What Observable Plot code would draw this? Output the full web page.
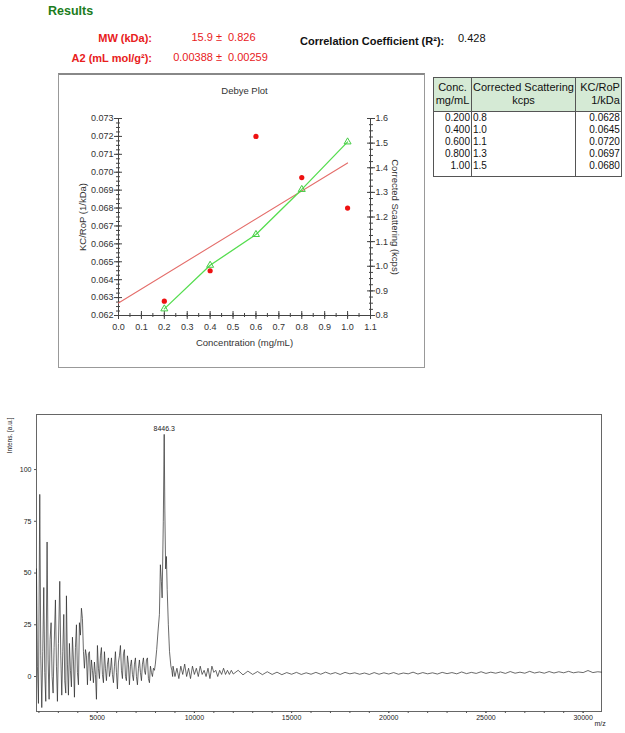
<!DOCTYPE html>
<html><head><meta charset="utf-8">
<script src="https://cdn.jsdelivr.net/npm/d3@7"></script>
<script src="https://cdn.jsdelivr.net/npm/@observablehq/plot@0.6"></script>
<style>
body{margin:0;background:#fff;}
#page{position:relative;width:625px;height:733px;overflow:hidden;font-family:"Liberation Sans",Arial,sans-serif;background:#fff;}
.abs{position:absolute;white-space:nowrap;}
.red{color:#e8201c;}
#debyeBox{position:absolute;left:58px;top:73px;width:365px;height:292px;border:1px solid #999;border-top:2px solid #888;}
#tableBox{position:absolute;left:433px;top:77px;}
#tableBox table{border-collapse:collapse;table-layout:fixed;border:1px solid #555;font-family:"Liberation Sans",Arial,sans-serif;color:#111;}
#tableBox th{background:#d5ead5;font-weight:normal;font-size:11px;line-height:12.5px;padding:3px 1px 5px 1px;border-right:1px solid #555;border-bottom:1px solid #555;overflow:hidden;white-space:nowrap;}
#tableBox td{font-size:10px;line-height:12px;height:12px;padding:0 1px;border-right:1px solid #555;overflow:hidden;white-space:nowrap;}
#tableBox tr.last td{padding-bottom:4px;}
</style></head>
<body><div id="page"></div>
<script>
// ---------- data ----------
const resultLabels = ["MW (kDa):", "A2 (mL mol/g²):"];
const resultValues = ["15.9 ±", "0.00388 ±"];
const resultErrors = ["0.826", "0.00259"];
const correlationText = ["Correlation Coefficient (R²):", "0.428"];

const concentrations = [0.2, 0.4, 0.6, 0.8, 1.0];
const concLabels = ["0.200", "0.400", "0.600", "0.800", "1.00"];
const scattering = [0.827, 1.004, 1.129, 1.312, 1.505];
const scatteringLabels = ["0.8", "1.0", "1.1", "1.3", "1.5"];
const kcRop = [0.0628, 0.0645, 0.0720, 0.0697, 0.0680];
const kcRopLabels = ["0.0628", "0.0645", "0.0720", "0.0697", "0.0680"];
const fitConc = [0.0, 1.0];
const fitKc = [0.0627, 0.07052];

const xTicks = [0, 0.1, 0.2, 0.3, 0.4, 0.5, 0.6, 0.7, 0.8, 0.9, 1.0, 1.1];
const leftTicks = [0.062, 0.063, 0.064, 0.065, 0.066, 0.067, 0.068, 0.069, 0.070, 0.071, 0.072, 0.073];
const rightTicks = [0.8, 0.9, 1.0, 1.1, 1.2, 1.3, 1.4, 1.5, 1.6];

const tableHeaders = [["Conc.", "mg/mL"], ["Corrected Scattering", "kcps"], ["KC/RoP", "1/kDa"]];

const spectrumPoints = [
[1876,52],[1924,5],[1976,-13],[2044,88],[2096,10],[2147,-15],[2199,12],[2250,43],[2301,2],[2353,-12],
[2421,65],[2473,8],[2524,-11],[2576,18],[2627,26],[2679,0],[2730,-8],[2782,14],[2850,37],[2902,5],
[2953,-12],[3005,16],[3073,46],[3125,10],[3176,-9],[3228,12],[3279,30],[3330,-2],[3382,-8],[3416,39],
[3468,6],[3519,-9],[3570,16],[3622,3],[3673,-5],[3725,19],[3776,8],[3828,-10],[3879,14],[3931,25],
[3982,2],[4034,-4],[4085,26],[4136,20],[4188,33],[4239,28],[4291,12],[4342,4],[4394,13],[4445,10],
[4497,-4],[4548,11],[4600,12],[4651,-2],[4702,8],[4754,3],[4805,-3],[4857,7],[4908,1],[4960,-11],
[5011,15],[5063,4],[5114,-1],[5166,10],[5217,14],[5268,1],[5320,-3],[5371,12],[5423,4],[5474,-2],
[5526,6],[5577,9],[5629,0],[5680,3],[5732,9],[5783,1],[5834,-3],[5886,5],[5937,12],[5989,2],
[6040,-6],[6092,7],[6143,10],[6195,15],[6246,3],[6297,-1],[6349,11],[6400,13],[6452,0],[6503,-2],
[6555,10],[6606,6],[6657,-4],[6709,5],[6760,8],[6812,1],[6863,-2],[6915,6],[6966,9],[7018,0],
[7069,-4],[7121,4],[7172,8],[7224,2],[7275,-2],[7326,6],[7378,9],[7429,3],[7481,1],[7532,8],
[7584,9],[7635,-1],[7687,-3],[7738,5],[7789,2],[7841,0],[7892,4],[7944,3],
[7990,6],[8060,13],[8130,22],[8200,30],[8250,54],[8300,46],[8340,38],[8400,75],[8446,117],[8480,80],
[8520,52],[8560,58],[8600,42],[8660,25],[8720,12],[8790,5],[8840,3],[8880,0],
[8900,5],[9000,0],[9100,4],[9200,-1],[9300,5],[9400,1],[9500,6],[9600,0],[9700,4],[9800,-1],
[9900,5],[10000,1],[10100,4],[10200,0],[10300,5],[10400,1],[10500,3],[10600,0],[10700,4],[10800,-1],
[10900,5],[11000,2],[11100,3],[11200,0],[11300,3],[11400,1],[11500,4],[11600,1],[11700,3],[11800,1],
[11900,3],[12000,1.2],[12250,3],[12500,0.8],[12750,2.6],[13000,1.0],[13250,2.4],[13500,0.9],[13750,2.3],[14000,1.0],
[14250,2.1],[14500,0.9],[14750,1.9],[15000,1.1],[15250,2.0],[15500,1.0],[15750,1.8],[16000,1.1],[16250,2.0],[16500,1.1],
[16750,2.1],[17000,1.2],[17250,1.9],[17500,1.0],[17750,2.0],[18000,1.3],[18250,1.8],[18500,1.1],[18750,1.7],[19000,1.0],
[19250,1.9],[19500,1.1],[19750,1.8],[20000,1.2],[20250,1.9],[20500,1.1],[20750,1.7],[21000,1.3],[21250,2.1],[21500,1.2],
[21750,1.9],[22000,1.3],[22250,1.8],[22500,1.2],[22750,2.0],[23000,1.4],[23250,1.9],[23500,1.3],[23750,2.2],[24000,1.4],
[24250,2.0],[24500,1.5],[24750,2.3],[25000,1.5],[25250,2.1],[25500,1.6],[25750,2.2],[26000,1.5],[26250,2.4],[26500,1.6],
[26750,2.1],[27000,1.6],[27250,2.5],[27500,1.7],[27750,2.2],[28000,1.6],[28250,2.4],[28500,1.7],[28750,2.3],[29000,1.8],
[29250,2.5],[29500,1.8],[29750,2.2],[30000,1.9],[30250,2.9],[30500,1.9],[30750,2.3],[30945,2.1]
];
const peakMz = [8446];
const peakInt = [117];
const peakLabels = ["8446.3"];
const mzTicks = [5000, 10000, 15000, 20000, 25000, 30000];
const intTicks = [0, 25, 50, 75, 100];

// ---------- layout helpers ----------
const FONT = '"Liberation Sans", Arial, sans-serif';
const page = document.getElementById("page");
function addText(txt, css, cls) {
  const d = document.createElement("div");
  d.className = "abs" + (cls ? " " + cls : "");
  d.textContent = txt;
  Object.assign(d.style, css);
  page.appendChild(d);
  return d;
}

// ---------- header ----------
addText("Results", {left: "48px", top: "4px", font: "bold 12.5px " + FONT, color: "#1c7c1c"});
const rowCenters = [38, 58];
resultLabels.forEach((lab, i) => {
  const top = (rowCenters[i] - 7) + "px";
  addText(lab, {left: "20px", width: "132px", textAlign: "right", top, font: "bold 11px " + FONT, lineHeight: "14px"}, "red");
  addText(resultValues[i], {left: "148px", width: "74px", textAlign: "right", top: (rowCenters[i] - 8) + "px", font: "11px " + FONT, lineHeight: "14px"}, "red");
  addText(resultErrors[i], {left: "228px", top: (rowCenters[i] - 8) + "px", font: "11px " + FONT, lineHeight: "14px"}, "red");
});
addText(correlationText[0], {left: "300px", top: "34px", font: "bold 11px " + FONT, lineHeight: "14px", color: "#111"});
addText(correlationText[1], {left: "458px", top: "31px", font: "11px " + FONT, lineHeight: "14px", color: "#111"});

// ---------- Debye plot ----------
const box = document.createElement("div");
box.id = "debyeBox";
page.appendChild(box);

const debye = concentrations.map((c, i) => ({conc: c, kc: kcRop[i], scat: scattering[i]}));
const fit = fitConc.map((c, i) => ({conc: c, kc: fitKc[i]}));
const Y0 = 0.062, Y1 = 0.073, R0 = 0.8, R1 = 1.6;
const toLeft = r => Y0 + (r - R0) * (Y1 - Y0) / (R1 - R0);
const fromLeft = y => R0 + (y - Y0) * (R1 - R0) / (Y1 - Y0);
const leftMinor = d3.range(0, 45).map(i => Y0 + i * 0.00025);
const rightMinor = d3.range(0, 33).map(i => R0 + i * 0.025);
const xMinor = d3.range(0, 23).map(i => i * 0.05);
const axisColor = "#444";

const debyePlot = Plot.plot({
  width: 369, height: 294,
  marginLeft: 60, marginRight: 57, marginTop: 45, marginBottom: 52,
  x: {domain: [0, 1.1]},
  y: {domain: [Y0, Y1]},
  style: {fontFamily: FONT, fontSize: "9px", color: "#333", background: "transparent", overflow: "visible"},
  marks: [
    Plot.ruleX([0], {stroke: axisColor}),
    Plot.ruleX([1.1], {stroke: axisColor}),
    Plot.ruleY([Y0], {stroke: axisColor}),
    Plot.axisY(leftMinor, {anchor: "left", tickSize: 4, dx: 2, tickFormat: () => "", label: null, stroke: axisColor}),
    Plot.axisY(leftTicks, {anchor: "left", tickSize: 8, dx: 4, tickPadding: 1, tickFormat: d => d.toFixed(3), label: null, stroke: axisColor}),
    Plot.axisY(rightMinor.map(toLeft), {anchor: "right", tickSize: 4, dx: -2, tickFormat: () => "", label: null, stroke: axisColor}),
    Plot.axisY(rightTicks.map(toLeft), {anchor: "right", tickSize: 8, dx: -4, tickPadding: 1, tickFormat: d => fromLeft(d).toFixed(1), label: null, stroke: axisColor}),
    Plot.axisX(xMinor, {anchor: "bottom", tickSize: 4, dy: -2, tickFormat: () => "", label: null, stroke: axisColor}),
    Plot.axisX(xTicks, {anchor: "bottom", tickSize: 8, dy: -4, tickPadding: 4, tickFormat: d => d.toFixed(1), label: null, stroke: axisColor}),
    Plot.text(["Debye Plot"], {frameAnchor: "top", dy: -28, textAnchor: "middle", lineAnchor: "middle", fontSize: 9.5, fill: "#333"}),
    Plot.text(["KC/RoP (1/kDa)"], {frameAnchor: "left", dx: -36, rotate: -90, textAnchor: "middle", lineAnchor: "middle", fontSize: 9.5, fill: "#333"}),
    Plot.text(["Corrected Scattering (kcps)"], {frameAnchor: "right", dx: 25, rotate: 90, textAnchor: "middle", lineAnchor: "middle", fontSize: 9.5, fill: "#333"}),
    Plot.text(["Concentration (mg/mL)"], {frameAnchor: "bottom", dy: 27, textAnchor: "middle", lineAnchor: "middle", fontSize: 9.5, fill: "#333"}),
    Plot.line(fit, {x: "conc", y: "kc", stroke: "#e46d6a", strokeWidth: 1.1}),
    Plot.line(debye, {x: "conc", y: d => toLeft(d.scat), stroke: "#55dd4f", strokeWidth: 1.3}),
    Plot.dot(debye, {x: "conc", y: d => toLeft(d.scat), symbol: "triangle", r: 2.6, stroke: "#44cc44", fill: "none", strokeWidth: 1}),
    Plot.dot(debye, {x: "conc", y: "kc", r: 2.6, fill: "#ee1111", stroke: "none"})
  ]
});
debyePlot.style.position = "absolute";
debyePlot.style.left = "58px";
debyePlot.style.top = "73px";
page.appendChild(debyePlot);

// ---------- data table ----------
const tableBox = document.createElement("div");
tableBox.id = "tableBox";
const tbl = document.createElement("table");
const colWidths = [38, 100, 46];
const cg = document.createElement("colgroup");
colWidths.forEach(w => { const c = document.createElement("col"); c.style.width = w + "px"; cg.appendChild(c); });
tbl.appendChild(cg);
const hr = document.createElement("tr");
tableHeaders.forEach((h, j) => {
  const th = document.createElement("th");
  th.innerHTML = h.map(s => s.replace(/&/g, "&amp;")).join("<br>");
  th.style.textAlign = j === 2 ? "right" : "center";
  hr.appendChild(th);
});
tbl.appendChild(hr);
concentrations.forEach((c, i) => {
  const tr = document.createElement("tr");
  if (i === concentrations.length - 1) tr.className = "last";
  [[concLabels[i], "right"], [scatteringLabels[i], "left"], [kcRopLabels[i], "right"]].forEach(([t, a]) => {
    const td = document.createElement("td");
    td.textContent = t;
    td.style.textAlign = a;
    tr.appendChild(td);
  });
  tbl.appendChild(tr);
});
tableBox.appendChild(tbl);
page.appendChild(tableBox);

// ---------- mass spectrum ----------
const spectrum = spectrumPoints.map(([m, v]) => ({mz: m, int: v}));
const peaks = peakMz.map((m, i) => ({mz: m, int: peakInt[i], label: peakLabels[i]}));
const mzMinor = d3.range(2000, 30001, 1000);
const specPlot = Plot.plot({
  width: 625, height: 333,
  marginLeft: 36, marginRight: 24, marginTop: 14, marginBottom: 22,
  x: {domain: [1876, 30945]},
  y: {domain: [-16.9, 126.6]},
  style: {fontFamily: FONT, fontSize: "7px", color: "#222", background: "transparent", overflow: "visible"},
  marks: [
    Plot.frame({stroke: "#666", strokeWidth: 1}),
    Plot.axisX(mzMinor, {anchor: "bottom", tickSize: 2, tickFormat: () => "", label: null, stroke: "#555"}),
    Plot.axisX(mzTicks, {anchor: "bottom", tickSize: 2, tickPadding: 1.5, tickFormat: d => String(d), label: null, stroke: "#555", fontSize: 7}),
    Plot.axisY(intTicks, {anchor: "left", tickSize: 2, tickPadding: 3, tickFormat: d => String(d), label: null, stroke: "#555", fontSize: 7}),
    Plot.text(["Intens. [a.u.]"], {frameAnchor: "top-left", rotate: -90, textAnchor: "end", lineAnchor: "middle", dx: -27, dy: 3, fontSize: 6.5, fill: "#222"}),
    Plot.text(["m/z"], {frameAnchor: "bottom-right", textAnchor: "start", lineAnchor: "middle", dx: -7, dy: 12, fontSize: 7, fill: "#222"}),
    Plot.line(spectrum, {x: "mz", y: "int", stroke: "#2a2a2a", strokeWidth: 0.7}),
    Plot.text(peaks, {x: "mz", y: "int", text: "label", dy: -3, lineAnchor: "bottom", fontSize: 7, fill: "#222", ariaLabel: "peak-label"})
  ]
});
specPlot.style.position = "absolute";
specPlot.style.left = "0px";
specPlot.style.top = "400px";
d3.select(specPlot).selectAll('g[aria-label="peak-label"] text').style("text-decoration", "underline");
page.appendChild(specPlot);
</script>
</body></html>
